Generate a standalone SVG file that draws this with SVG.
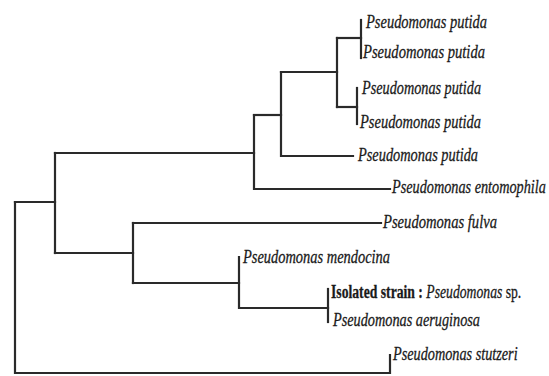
<svg xmlns="http://www.w3.org/2000/svg" width="549" height="376" viewBox="0 0 549 376">
<style>
.edge{fill:none;stroke:#2a2a2a;stroke-width:2.2;stroke-linecap:square}
.lbl{font-family:"Liberation Serif","Times New Roman",serif;font-size:19px;font-style:italic;fill:#1a1a1a;stroke:#1a1a1a;stroke-width:0.3}
.up{font-style:normal;font-weight:bold}
.rom{font-style:normal}
</style>
<rect width="549" height="376" fill="#ffffff"/>
<g id="connectors">
<path class="edge" d="M15,202 V373 H390 V355"/>
<path class="edge" d="M15,202 H55"/>
<path class="edge" d="M55,153 V253"/>
<path class="edge" d="M55,153 H254"/>
<path class="edge" d="M254,115 V189 H390"/>
<path class="edge" d="M254,115 H281"/>
<path class="edge" d="M281,72 V156 H353"/>
<path class="edge" d="M281,72 H337"/>
<path class="edge" d="M337,38 V107"/>
<path class="edge" d="M337,38 H361"/>
<path class="edge" d="M361,20 V58"/>
<path class="edge" d="M337,107 H357"/>
<path class="edge" d="M357,88 V124"/>
<path class="edge" d="M55,253 H133"/>
<path class="edge" d="M133,223 V283"/>
<path class="edge" d="M133,223 H381"/>
<path class="edge" d="M133,283 H239"/>
<path class="edge" d="M239,257 V308 H328"/>
<path class="edge" d="M328,289 V322"/>
</g>
<g id="leaf1"><text class="lbl" x="366" y="28" textLength="121" lengthAdjust="spacingAndGlyphs">Pseudomonas putida</text></g>
<g id="leaf2"><text class="lbl" x="363" y="58" textLength="122" lengthAdjust="spacingAndGlyphs">Pseudomonas putida</text></g>
<g id="leaf3"><text class="lbl" x="362" y="94" textLength="119" lengthAdjust="spacingAndGlyphs">Pseudomonas putida</text></g>
<g id="leaf4"><text class="lbl" x="360" y="128" textLength="121" lengthAdjust="spacingAndGlyphs">Pseudomonas putida</text></g>
<g id="leaf5"><text class="lbl" x="358" y="161" textLength="120" lengthAdjust="spacingAndGlyphs">Pseudomonas putida</text></g>
<g id="leaf6"><text class="lbl" transform="translate(392,193) scale(0.75,1)" x="0" y="0">Pseudomonas entomophila</text></g>
<g id="leaf7"><text class="lbl" x="383" y="228" textLength="114" lengthAdjust="spacingAndGlyphs">Pseudomonas fulva</text></g>
<g id="leaf8"><text class="lbl" x="243" y="263" textLength="147" lengthAdjust="spacingAndGlyphs">Pseudomonas mendocina</text></g>
<g id="leaf9"><text class="lbl" transform="translate(331,298) scale(0.72,1)" x="0" y="0"><tspan class="up">Isolated strain : </tspan><tspan>Pseudomonas</tspan><tspan class="rom"> sp.</tspan></text></g>
<g id="leaf10"><text class="lbl" x="333" y="326" textLength="147" lengthAdjust="spacingAndGlyphs">Pseudomonas aeruginosa</text></g>
<g id="leaf11"><text class="lbl" transform="translate(393,360) scale(0.75,1)" x="0" y="0">Pseudomonas stutzeri</text></g>
</svg>
